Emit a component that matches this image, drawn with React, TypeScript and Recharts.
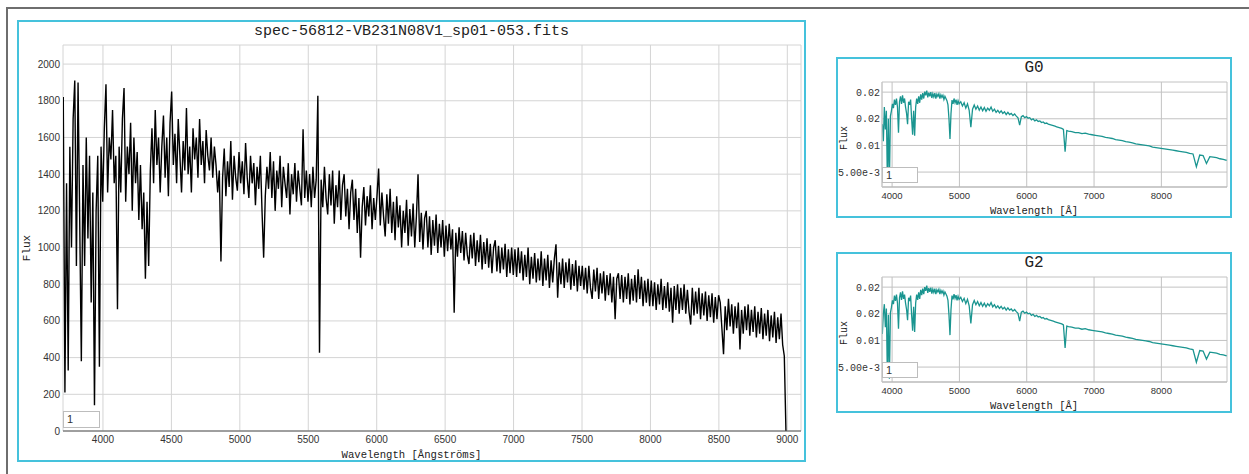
import React from 'react';
import { LineChart, Line, XAxis, YAxis, CartesianGrid } from 'recharts';

// ---------- Main observed spectrum ----------
const MAIN_TITLE = 'spec-56812-VB231N08V1_sp01-053.fits';
const MAIN_X_LABEL = 'Wavelength [Ångströms]';
const MAIN_Y_LABEL = 'Flux';
// wavelength grid of the spectrum (start + step, like a FITS header)
const MAIN_WAVE_START = 3710;
const MAIN_WAVE_STEP = 12;
const MAIN_FLUX: number[] = [
  // 3710
  1820, 210, 1350, 330, 1550, 1000, 1700, 1910, 900, 1900,
  1150, 380, 1450, 900, 1600, 1050, 1500, 700, 1300, 140,
  1200, 1500, 350, 1550, 1250,
  // 4010
  1650, 1890, 1300, 1600, 1480, 1750, 1350, 1500, 663, 1550,
  1300, 1700, 1870, 1250, 1550, 1400, 1680, 1200, 1600, 1350,
  1520, 1150, 1450, 1100, 1300, 830, 1250, 900, 1420, 1650,
  1350, 1750, 1450, 1600, 1300, 1550, 1720, 1380, 1600, 1280,
  1680,
  // 4502
  1850, 1450, 1620, 1350, 1700, 1500, 1300, 1580, 1420, 1760,
  1400, 1550, 1300, 1650, 1480, 1600, 1380, 1700, 1450, 1580,
  1350, 1640, 1500, 1420, 1600, 1380, 1550, 1450, 1300, 1420,
  924,
  // 4874
  1380, 1540, 1280, 1470, 1330, 1580, 1260, 1500, 1380, 1310,
  1520, 1350, 1470, 1290, 1570, 1380, 1270, 1500, 1350, 1460,
  1230, 1440, 1320, 1500, 1200, 945, 1280, 1440, 1320, 1520,
  1270, 1470, 1200, 1420, 1320, 1500, 1220, 1440, 1350, 1270,
  1460, 1180, 1400, 1290, 1460, 1250, 1420, 1320, 1230, 1645,
  1270, 1420, 1250,
  // 5510
  1400, 1220, 1440, 1270, 1370, 1827, 427, 1370, 1220, 1440,
  1270, 1180, 1400, 1230, 1420, 1130, 1340, 1220, 1420, 1150,
  1340, 1400, 1170, 1320, 1100, 1300, 1370, 1150, 1320, 1080,
  1270, 945, 1220, 1330, 1120, 1280, 1170, 1340, 1100, 1270,
  1150,
  // 6002
  1280, 1431, 1120, 1300, 1170, 1060, 1290, 1130, 1320, 1080,
  1250, 1040, 1280, 1110, 1230, 1000, 1200, 1080, 1260, 1010,
  1210, 1060, 1240, 1000, 1170, 1400, 1030, 1190, 990, 1160,
  1200, 1000, 1170, 960, 1150, 1010, 1180, 970, 1130, 1000,
  1150, 950,
  // 6506
  1120, 980, 1130, 990, 1100, 645, 1080, 950, 1110, 970,
  1090, 930, 1080, 960, 910, 1070, 940, 1080, 900, 1040,
  920, 1070, 880, 1030, 910, 1050, 890, 1020, 860, 1000,
  1040, 870, 1010, 860, 1000, 880, 1020, 840, 990, 860,
  1000, 850,
  // 7010
  990, 840, 1000, 860, 980, 820, 960, 840, 1000, 800,
  950, 830, 970, 810, 940, 820, 980, 790, 940, 820,
  960, 780, 930, 810, 940, 1018, 727, 920, 800, 940,
  780, 920, 810, 940, 770, 910, 790, 930, 760, 900,
  790,
  // 7502
  900, 770, 890, 750, 900, 780, 720, 880, 760, 890,
  720, 860, 750, 870, 710, 850, 740, 860, 700, 840,
  609, 830, 860, 720, 850, 700, 840, 720, 860, 690,
  830, 710, 850, 700, 882, 720, 840, 680, 820, 700,
  830, 680,
  // 8006
  820, 680, 810, 660, 800, 690, 830, 660, 790, 670,
  810, 650, 780, 590, 790, 660, 800, 640, 780, 660,
  800, 640, 770, 650, 580, 780, 630, 760, 640, 780,
  610, 750, 630, 760, 600, 740, 620, 750, 590, 730,
  610, 740,
  // 8510
  700, 560, 418, 680, 550, 720, 570, 690, 530, 680,
  560, 700, 445, 660, 530, 680, 550, 690, 520, 660,
  540, 680, 510, 650, 530, 670, 500, 640, 520, 660,
  490, 630, 510, 650, 480, 620, 500, 640, 470, 409,
  0,
];
const MAIN_X_TICKS = [4000, 4500, 5000, 5500, 6000, 6500, 7000, 7500, 8000, 8500, 9000];
const MAIN_Y_TICKS = [0, 200, 400, 600, 800, 1000, 1200, 1400, 1600, 1800, 2000];
const MAIN_LEGEND = '1';

// ---------- Template spectra (G0, G2) ----------
const TPL_X_LABEL = 'Wavelength [Å]';
const TPL_Y_LABEL = 'Flux';
const TPL_WAVE: number[] = [
  3855, 3870, 3885, 3900, 3915, 3930, 3945, 3960, 3975, 3990,
  4005, 4020, 4035, 4050, 4065, 4080, 4095, 4110, 4125, 4140,
  4155, 4170, 4185, 4200, 4215, 4230, 4245, 4260, 4275, 4290,
  4305, 4320, 4335, 4350, 4365, 4380, 4395, 4410, 4425, 4440,
  4455, 4470, 4485, 4500, 4515, 4530, 4545, 4560, 4575, 4590,
  4605, 4620, 4635, 4650, 4665, 4680, 4695, 4710, 4725, 4740,
  4755, 4770, 4785, 4800, 4815, 4830, 4845, 4860, 4875, 4890,
  4905, 4920, 4935, 4950, 4965, 4980, 4995,
  5020, 5045, 5070, 5095, 5120, 5145, 5170, 5195, 5220, 5245,
  5270, 5295, 5320, 5345, 5370, 5395, 5420, 5445, 5470, 5495,
  5520, 5545, 5570, 5595, 5620, 5645, 5670, 5695, 5720, 5745,
  5770, 5795, 5820, 5845, 5870, 5895, 5920, 5945, 5970, 5995,
  6020, 6045, 6070, 6095, 6120, 6145, 6170, 6195, 6220, 6245,
  6270, 6295, 6320, 6345, 6370, 6395, 6420, 6445, 6470, 6495,
  6520, 6545, 6570, 6595,
  6620, 6670, 6720, 6770, 6820, 6870, 6920, 6970, 7020, 7070,
  7120, 7170, 7220, 7270, 7320, 7370, 7420, 7470, 7520, 7570,
  7620, 7670, 7720, 7770, 7820, 7870, 7920, 7970, 8020, 8070,
  8120, 8170, 8220, 8270, 8320, 8370, 8420, 8470, 8520, 8570,
  8620, 8670, 8720, 8770, 8820, 8870, 8920, 8970,
];
const G0_FLUX: number[] = [
  0.0140, 0.0108, 0.0172, 0.0130, 0.0165, 0.0032, 0.0150, 0.0030, 0.0155, 0.0165,
  0.0178, 0.0170, 0.0186, 0.0176, 0.0188, 0.0172, 0.0124, 0.0182, 0.0192, 0.0178,
  0.0194, 0.0180, 0.0188, 0.0172, 0.0160, 0.0140, 0.0182, 0.0176, 0.0186, 0.0150,
  0.0120, 0.0165, 0.0118, 0.0172, 0.0188, 0.0178, 0.0192, 0.0180, 0.0196, 0.0186,
  0.0198, 0.0188, 0.0201, 0.0194, 0.0203, 0.0190, 0.0199, 0.0192, 0.0200, 0.0189,
  0.0197, 0.0191, 0.0198, 0.0188, 0.0196, 0.0192, 0.0197, 0.0188, 0.0195, 0.0190,
  0.0194, 0.0186, 0.0192, 0.0188, 0.0184, 0.0176, 0.0150, 0.0112, 0.0160, 0.0185,
  0.0178, 0.0188, 0.0180, 0.0186, 0.0176, 0.0184, 0.0178,
  0.0182, 0.0174, 0.0180, 0.0170, 0.0178, 0.0166, 0.0134, 0.0168, 0.0176, 0.0168,
  0.0174, 0.0166, 0.0172, 0.0165, 0.0171, 0.0164, 0.0170, 0.0166, 0.0172, 0.0164,
  0.0168, 0.0162, 0.0166, 0.0161, 0.0165, 0.0160, 0.0163, 0.0158, 0.0162, 0.0158,
  0.0160, 0.0156, 0.0159, 0.0155, 0.0152, 0.0138, 0.0154, 0.0156, 0.0152, 0.0154,
  0.0151, 0.0152, 0.0148, 0.0150, 0.0146, 0.0148, 0.0145, 0.0146, 0.0143, 0.0144,
  0.0141, 0.0142, 0.0140, 0.0139, 0.0138, 0.0137, 0.0136, 0.0135, 0.0134, 0.0133,
  0.0132, 0.0130, 0.0088, 0.0128,
  0.0127, 0.0126, 0.0124, 0.0124, 0.0122, 0.0123, 0.0121, 0.0120, 0.0119, 0.0118,
  0.0117, 0.0115, 0.0114, 0.0113, 0.0111, 0.0110, 0.0109, 0.0107, 0.0106, 0.0105,
  0.0103, 0.0102, 0.0101, 0.0100, 0.0099, 0.0097, 0.0096, 0.0095, 0.0094, 0.0093,
  0.0092, 0.0091, 0.0090, 0.0089, 0.0088, 0.0087, 0.0085, 0.0084, 0.0060, 0.0082,
  0.0081, 0.0066, 0.0079, 0.0078, 0.0077, 0.0075, 0.0074, 0.0072,
];
const G2_FLUX: number[] = [
  0.0112, 0.0150, 0.0168, 0.0125, 0.0160, 0.0030, 0.0148, 0.0028, 0.0152, 0.0162,
  0.0175, 0.0168, 0.0184, 0.0174, 0.0186, 0.0170, 0.0122, 0.0180, 0.0190, 0.0176,
  0.0192, 0.0178, 0.0186, 0.0170, 0.0158, 0.0138, 0.0180, 0.0174, 0.0184, 0.0148,
  0.0118, 0.0163, 0.0116, 0.0170, 0.0186, 0.0176, 0.0190, 0.0178, 0.0195, 0.0185,
  0.0197, 0.0187, 0.0200, 0.0193, 0.0203, 0.0189, 0.0198, 0.0191, 0.0199, 0.0188,
  0.0196, 0.0190, 0.0197, 0.0187, 0.0195, 0.0191, 0.0196, 0.0187, 0.0194, 0.0189,
  0.0193, 0.0185, 0.0191, 0.0187, 0.0183, 0.0175, 0.0148, 0.0110, 0.0158, 0.0184,
  0.0177, 0.0187, 0.0179, 0.0185, 0.0175, 0.0183, 0.0177,
  0.0181, 0.0173, 0.0179, 0.0169, 0.0177, 0.0165, 0.0132, 0.0167, 0.0175, 0.0167,
  0.0173, 0.0165, 0.0171, 0.0164, 0.0170, 0.0163, 0.0169, 0.0165, 0.0171, 0.0163,
  0.0167, 0.0161, 0.0165, 0.0160, 0.0164, 0.0159, 0.0162, 0.0157, 0.0161, 0.0157,
  0.0159, 0.0155, 0.0158, 0.0154, 0.0151, 0.0136, 0.0153, 0.0155, 0.0151, 0.0153,
  0.0150, 0.0151, 0.0147, 0.0149, 0.0145, 0.0147, 0.0144, 0.0145, 0.0142, 0.0143,
  0.0140, 0.0141, 0.0139, 0.0138, 0.0137, 0.0136, 0.0135, 0.0134, 0.0133, 0.0132,
  0.0131, 0.0129, 0.0086, 0.0127,
  0.0126, 0.0125, 0.0123, 0.0123, 0.0121, 0.0122, 0.0120, 0.0119, 0.0118, 0.0117,
  0.0116, 0.0114, 0.0113, 0.0112, 0.0110, 0.0109, 0.0108, 0.0106, 0.0105, 0.0104,
  0.0102, 0.0101, 0.0100, 0.0099, 0.0098, 0.0096, 0.0095, 0.0094, 0.0093, 0.0092,
  0.0091, 0.0090, 0.0089, 0.0088, 0.0087, 0.0086, 0.0084, 0.0083, 0.0059, 0.0081,
  0.0080, 0.0065, 0.0078, 0.0077, 0.0076, 0.0074, 0.0073, 0.0071,
];
const TPL_X_TICKS = [4000, 5000, 6000, 7000, 8000];
const TPL_Y_TICKS = [0.005, 0.01, 0.015, 0.02];
const TPL_Y_TICK_LABELS = ['5.00e-3', '0.01', '0.02', '0.02'];

// ---------- derived tables ----------
const MAIN_DATA = MAIN_FLUX.map((f, i) => ({ w: MAIN_WAVE_START + i * MAIN_WAVE_STEP, f }));
const G0_DATA = TPL_WAVE.map((w, i) => ({ w, f: G0_FLUX[i] }));
const G2_DATA = TPL_WAVE.map((w, i) => ({ w, f: G2_FLUX[i] }));

const MONO = '"Liberation Mono", "DejaVu Sans Mono", monospace';
const SANS = '"Liberation Sans", Arial, sans-serif';
const CYAN = '#45c2dc';

const abs = (s: React.CSSProperties): React.CSSProperties => ({ position: 'absolute', ...s });

function LegendBox({ left, top, w, h }: { left: number; top: number; w: number; h: number }) {
  return (
    <div
      style={abs({
        left, top, width: w, height: h, boxSizing: 'border-box',
        border: '1px solid #bdbdbd', background: '#fff',
        fontFamily: SANS, fontSize: 11, color: '#333', lineHeight: `${h - 2}px`, paddingLeft: 3,
      })}
    >
      {MAIN_LEGEND}
    </div>
  );
}

function MainPanel() {
  const L = 17, T = 20, W = 789, H = 442;
  return (
    <>
      <div style={abs({ left: L, top: T, width: W, height: H, border: `2px solid ${CYAN}`, boxSizing: 'border-box' })} />
      <div style={abs({ left: L, top: T })}>
        <LineChart width={W} height={H} data={MAIN_DATA} margin={{ top: 25, right: 5, bottom: 11, left: 0 }}>
          <CartesianGrid stroke="#d4d4d4" strokeWidth={1} />
          <XAxis
            dataKey="w" type="number" domain={[3708, 9100]} ticks={MAIN_X_TICKS} interval={0}
            allowDataOverflow height={20} tickSize={0} tickMargin={5} stroke="#555"
            tick={{ fontSize: 10, fill: '#333', fontFamily: SANS }}
          />
          <YAxis
            type="number" domain={[0, 2104]} ticks={MAIN_Y_TICKS} interval={0} allowDataOverflow
            width={46} axisLine={false} tickLine={false} tickSize={0} tickMargin={3}
            tick={{ fontSize: 10, fill: '#333', fontFamily: SANS }}
          />
          <Line dataKey="f" type="linear" stroke="#000" strokeWidth={1.4} dot={false} isAnimationActive={false} />
        </LineChart>
      </div>
      <div style={abs({ left: L, top: T + 3, width: W, textAlign: 'center', fontFamily: MONO, fontSize: 15, lineHeight: '18px', color: '#222' })}>
        {MAIN_TITLE}
      </div>
      <div style={abs({ left: L, top: 448, width: W, textAlign: 'center', fontFamily: MONO, fontSize: 10.6, lineHeight: '14px', color: '#222' })}>
        {MAIN_X_LABEL}
      </div>
      <div style={abs({ left: 27, top: 248, transform: 'translate(-50%, -50%) rotate(-90deg)', fontFamily: MONO, fontSize: 11, lineHeight: '12px', color: '#222', whiteSpace: 'nowrap' })}>
        {MAIN_Y_LABEL}
      </div>
      <LegendBox left={63} top={411} w={37} h={17} />
    </>
  );
}

function TemplatePanel({ top, title, data }: { top: number; title: string; data: { w: number; f: number }[] }) {
  const L = 836, W = 396, H = 161;
  return (
    <>
      <div style={abs({ left: L, top, width: W, height: H, border: `2px solid ${CYAN}`, boxSizing: 'border-box' })} />
      <div style={abs({ left: L, top })}>
        <LineChart width={W} height={H} data={data} margin={{ top: 25, right: 5, bottom: 15, left: 0 }}>
          <CartesianGrid stroke="#c2c2c2" strokeWidth={1} />
          <XAxis
            dataKey="w" type="number" domain={[3850, 8975]} ticks={TPL_X_TICKS} interval={0}
            allowDataOverflow height={16} tickSize={0} tickMargin={5} stroke="#b5b5b5"
            tick={{ fontSize: 9.5, fill: '#333', fontFamily: SANS }}
          />
          <YAxis
            type="number" domain={[0.0022, 0.0219]} ticks={TPL_Y_TICKS} interval={0} allowDataOverflow
            width={46} stroke="#c8c8c8" tickLine={false} tickSize={0} tickMargin={2}
            tickFormatter={(v: number) => TPL_Y_TICK_LABELS[TPL_Y_TICKS.indexOf(v)] ?? String(v)}
            tick={{ fontSize: 10, fill: '#333', fontFamily: MONO }}
          />
          <Line dataKey="f" type="linear" stroke="#1a9590" strokeWidth={1.3} dot={false} isAnimationActive={false} />
        </LineChart>
      </div>
      <div style={abs({ left: L, top: top + 2, width: W, textAlign: 'center', fontFamily: MONO, fontSize: 16, lineHeight: '18px', color: '#222' })}>
        {title}
      </div>
      <div style={abs({ left: L, top: top + 147, width: W, textAlign: 'center', fontFamily: MONO, fontSize: 10.5, lineHeight: '14px', color: '#222' })}>
        {TPL_X_LABEL}
      </div>
      <div style={abs({ left: 845, top: top + 81, transform: 'translate(-50%, -50%) rotate(-90deg)', fontFamily: MONO, fontSize: 10, lineHeight: '12px', color: '#222', whiteSpace: 'nowrap' })}>
        {TPL_Y_LABEL}
      </div>
      <LegendBox left={882} top={top + 110} w={36} h={16} />
    </>
  );
}

export default function App() {
  return (
    <div style={abs({ left: 0, top: 0, width: 1249, height: 474, overflow: 'hidden', background: '#fff' })}>
      <div style={abs({ left: 6, top: 7, width: 1400, height: 600, borderTop: '2px solid #6e6e6e', borderLeft: '2px solid #6e6e6e' })} />
      <MainPanel />
      <TemplatePanel top={57} title="G0" data={G0_DATA} />
      <TemplatePanel top={252} title="G2" data={G2_DATA} />
    </div>
  );
}
